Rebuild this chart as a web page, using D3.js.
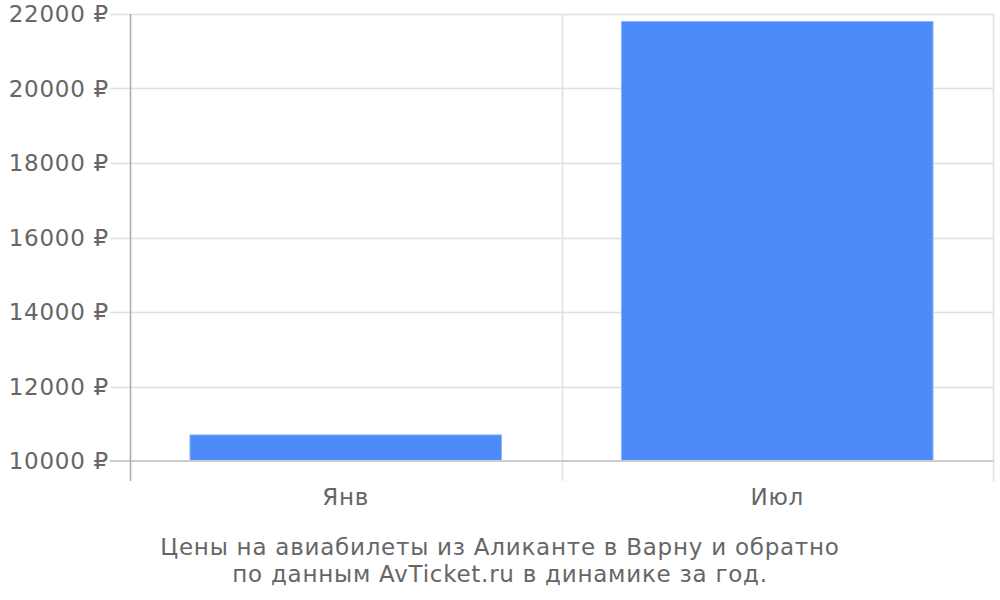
<!DOCTYPE html>
<html><head><meta charset="utf-8">
<script src="https://cdn.jsdelivr.net/npm/d3@7"></script>
<style>body{margin:0;background:#fff}svg{display:block}text{font-family:"DejaVu Sans",sans-serif;fill:#666;font-size:23px;letter-spacing:0.75px}</style>
</head><body>
<svg id="c" width="1000" height="600"></svg>
<script>
const categories = ["Янв", "Июл"];
const prices = [10700, 21800];
const yTicks = [10000, 12000, 14000, 16000, 18000, 20000, 22000];
const titleLines = ["Цены на авиабилеты из Аликанте в Варну и обратно", "по данным AvTicket.ru в динамике за год."];

const svg = d3.select("#c");
const L = 130, R = 993, T = 14, B = 461;
const x = d3.scaleBand().domain(categories).range([L, R]).paddingInner(0.278).paddingOuter(0.139);
const y = d3.scaleLinear().domain([10000, 22000]).range([B, T]);
const step = x.step();
const bandEdges = [L, L + step, R];

// horizontal grid
svg.append("g").selectAll("line").data(yTicks.slice(1)).join("line")
  .attr("x1", 110).attr("x2", R).attr("y1", d => Math.round(y(d)) + 0.5).attr("y2", d => Math.round(y(d)) + 0.5)
  .attr("stroke", "#e0e0e0").attr("stroke-width", 1.5);
// vertical grid
svg.append("g").selectAll("line").data(bandEdges.slice(1)).join("line")
  .attr("x1", d => Math.round(d) + 0.5).attr("x2", d => Math.round(d) + 0.5).attr("y1", T).attr("y2", 481)
  .attr("stroke", "#e0e0e0").attr("stroke-width", 1.5);

// bars
svg.append("g").selectAll("rect").data(categories).join("rect")
  .attr("x", d => x(d)).attr("width", x.bandwidth())
  .attr("y", (d, i) => y(prices[i])).attr("height", (d, i) => y(10000) - y(prices[i]))
  .attr("fill", "#4d8afa").attr("stroke", "#8fb5fb").attr("stroke-width", 1);

// baseline
svg.append("line").attr("x1", 110).attr("x2", R).attr("y1", B).attr("y2", B)
  .attr("stroke", "#cccccc").attr("stroke-width", 2);
// left axis
svg.append("line").attr("x1", L + 0.5).attr("x2", L + 0.5).attr("y1", T).attr("y2", 481)
  .attr("stroke", "#aaaaaa").attr("stroke-width", 1.5);

// y labels
svg.append("g").selectAll("text").data(yTicks).join("text")
  .attr("x", 109).attr("y", d => y(d) + 8).attr("text-anchor", "end")
  .text(d => d + " ₽");

// x labels
svg.append("g").selectAll("text").data(categories).join("text")
  .attr("x", d => x(d) + x.bandwidth() / 2).attr("y", 505).attr("text-anchor", "middle")
  .text(d => d);

// title
svg.append("g").selectAll("text").data(titleLines).join("text")
  .attr("x", 500).attr("y", (d, i) => 555 + i * 27).attr("text-anchor", "middle")
  .text(d => d);
</script>
</body></html>
